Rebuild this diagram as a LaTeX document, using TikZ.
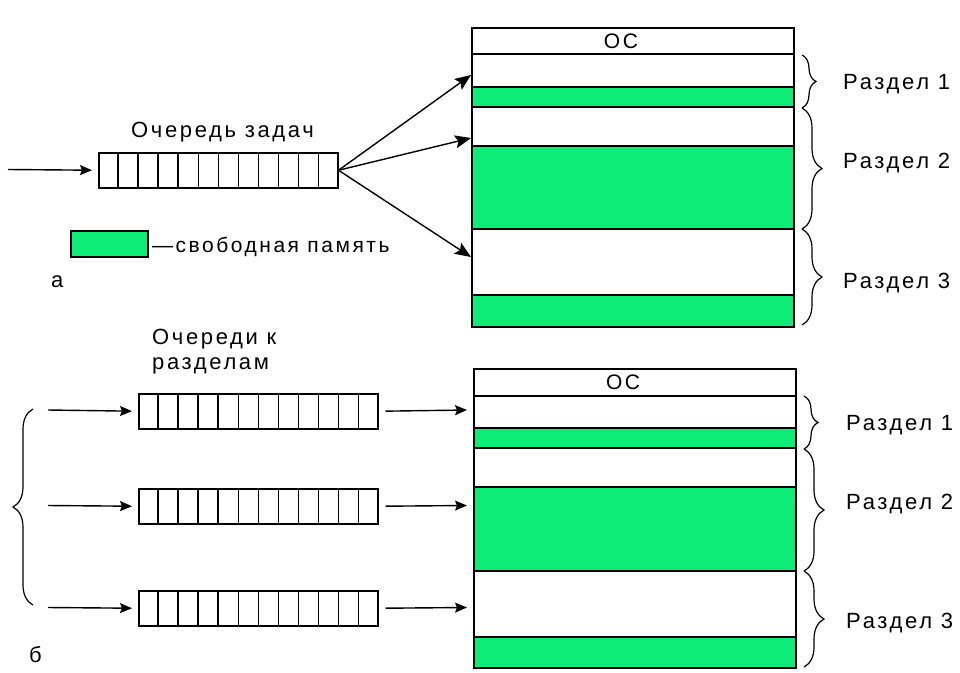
\documentclass[tikz,border=0pt]{standalone}
\usepackage{fontspec}
\setmainfont{Liberation Sans}[LetterSpace=12]
\usetikzlibrary{arrows.meta,decorations.pathreplacing,calc}
\definecolor{freegreen}{RGB}{14,236,120}
\newcommand\drawqueue[3]{%
  \node[qbox, anchor=north west] (#1) at (#2,#3) {};
  \foreach \i in {1,...,11}
    \draw[qline] ($(#1.north west)!\i/12!(#1.north east)$) -- ($(#1.south west)!\i/12!(#1.south east)$);
}
\begin{document}
\begin{tikzpicture}[x=1pt,y=-1pt,
  txt/.style={font=\fontsize{22}{26}\selectfont, inner sep=0pt},
  legtxtst/.style={font=\fontsize{21}{25}\selectfont, inner sep=0pt},
  ostxt/.style={font=\fontsize{21}{25}\selectfont, inner sep=0pt},
  qbox/.style={draw, line width=1.5pt, minimum width=239pt, minimum height=35pt, inner sep=0pt},
  qline/.style={line width=1.4pt},
  membox/.style={draw, line width=1.6pt, minimum width=322pt, minimum height=299pt, inner sep=0pt},
  freebox/.style={fill=freegreen, draw, line width=1.5pt},
  arr/.style={-{Stealth[length=12pt,width=10pt,inset=2pt]}, line width=1.4pt},
  bigarr/.style={-{Stealth[length=16pt,width=13pt,inset=3pt]}, line width=1.4pt},
  brc/.style={decorate, line width=1.2pt}
]
\useasboundingbox (0,0) rectangle (960,672);
\fill[white] (0,0) rectangle (960,672);

% ---------- part a ----------
\node[txt, anchor=base west] (titleA) at (131,137) {Очередь задач};
\drawqueue{qa}{98}{152}
\coordinate (inA) at (8,169.5);
\draw[arr, shorten >=6pt] (inA) -- (qa.west);

% legend
\node[freebox, anchor=north west, minimum width=77pt, minimum height=26pt, inner sep=0pt] (leg) at (70,230) {};
\node[legtxtst, anchor=base west] (legtxt) at (152,252) {—свободная память};
\node[txt, anchor=base west] (labA) at (51,287) {а};

% memory block a
\fill[freegreen] (471,87) rectangle (793,107);
\fill[freegreen] (471,146) rectangle (793,229);
\fill[freegreen] (471,295) rectangle (793,326);
\foreach \yy in {54,87,107,146,229,295}
  \draw[line width=1.4pt] (471,\yy) -- (793,\yy);
\node[membox, anchor=north west] (memA) at (471,27) {};
\node[ostxt, anchor=base] (osA) at (621,48) {ОС};

\coordinate (tA1) at (471,75);
\coordinate (tA2) at (471,138);
\coordinate (tA3) at (471,257);
\draw[bigarr] (qa.east) -- (tA1);
\draw[bigarr] (qa.east) -- (tA2);
\draw[bigarr] (qa.east) -- (tA3);

\draw[brc, decoration={brace, amplitude=14pt}] (802,55) -- (802,108);
\draw[brc, decoration={brace, amplitude=20pt}] (802,108) -- (802,229);
\draw[brc, decoration={brace, amplitude=20pt}] (802,229) -- (802,325);
\node[txt, anchor=base west] (rA1) at (843,89) {Раздел 1};
\node[txt, anchor=base west] (rA2) at (843,168) {Раздел 2};
\node[txt, anchor=base west] (rA3) at (843,288) {Раздел 3};

% ---------- part b ----------
\node[txt, anchor=base west] (titleB1) at (152,344) {Очереди к};
\node[txt, anchor=base west] (titleB2) at (152,369) {разделам};

\drawqueue{qb1}{138}{393}
\drawqueue{qb2}{138}{488}
\drawqueue{qb3}{138}{590}

\coordinate (inB1) at (48,410);
\coordinate (inB2) at (48,505.5);
\coordinate (inB3) at (48,607.5);
\draw[arr, shorten >=6pt] (inB1) -- (qb1.west);
\draw[arr, shorten >=6pt] (inB2) -- (qb2.west);
\draw[arr, shorten >=6pt] (inB3) -- (qb3.west);

\draw[brc, decoration={brace, amplitude=20pt}] (33,605) -- (33,409);
\node[txt, anchor=base west] (labB) at (29,662) {б};

% memory block b
\fill[freegreen] (473,428) rectangle (795,448);
\fill[freegreen] (473,487) rectangle (795,571);
\fill[freegreen] (473,637) rectangle (795,667);
\foreach \yy in {396,428,448,487,571,637}
  \draw[line width=1.4pt] (473,\yy) -- (795,\yy);
\node[membox, anchor=north west] (memB) at (473,368) {};
\node[ostxt, anchor=base] (osB) at (623,389) {ОС};

\coordinate (tB1) at (467,410);
\coordinate (tB2) at (467,505.5);
\coordinate (tB3) at (467,607.5);
\draw[arr, shorten <=7pt] (qb1.east) -- (tB1);
\draw[arr, shorten <=7pt] (qb2.east) -- (tB2);
\draw[arr, shorten <=7pt] (qb3.east) -- (tB3);

\draw[brc, decoration={brace, amplitude=14pt}] (804,396) -- (804,449);
\draw[brc, decoration={brace, amplitude=20pt}] (804,449) -- (804,571);
\draw[brc, decoration={brace, amplitude=20pt}] (804,571) -- (804,667);
\node[txt, anchor=base west] (rB1) at (846,430) {Раздел 1};
\node[txt, anchor=base west] (rB2) at (846,509) {Раздел 2};
\node[txt, anchor=base west] (rB3) at (846,628) {Раздел 3};
\end{tikzpicture}
\end{document}
